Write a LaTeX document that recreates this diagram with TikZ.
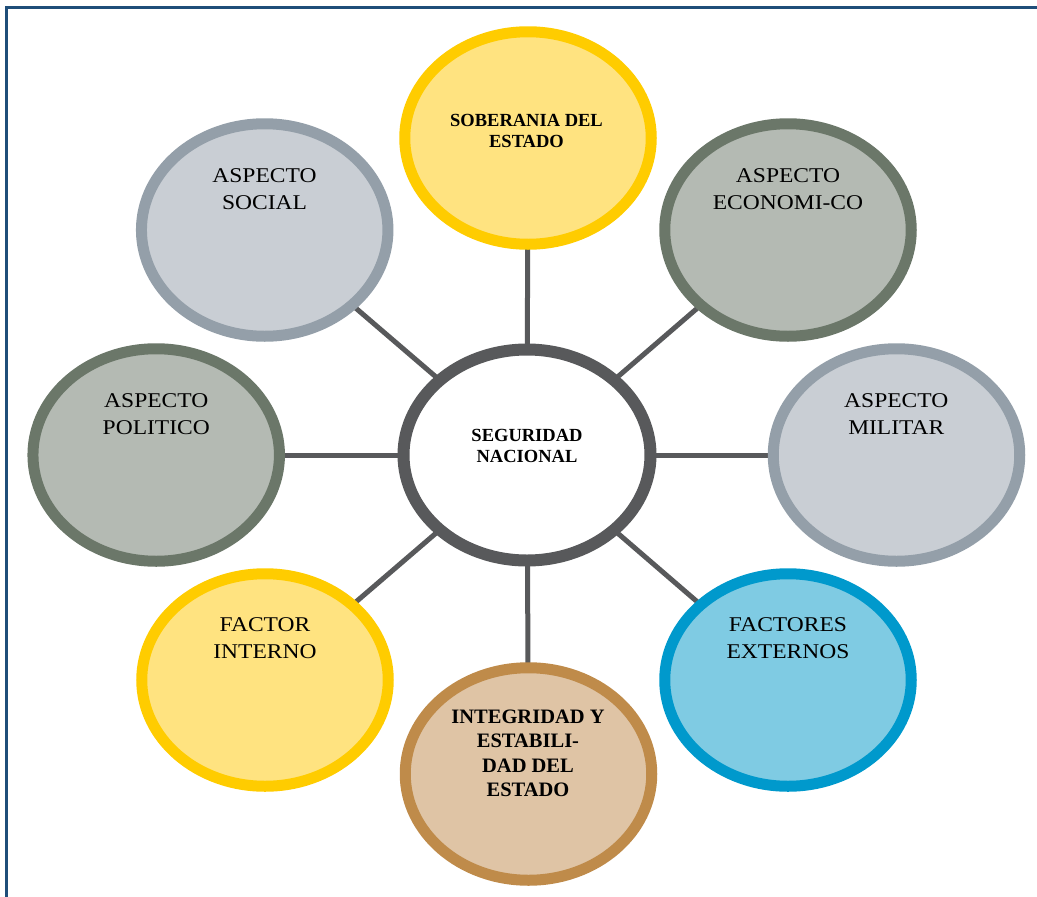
\documentclass[tikz,border=0pt]{standalone}
\usepackage{fontspec}
\setmainfont{Liberation Serif}
\usetikzlibrary{shapes.geometric,backgrounds}
\definecolor{framec}{HTML}{1F4E79}
\definecolor{linkc}{HTML}{58595B}
\definecolor{yelO}{HTML}{FFCC00}
\definecolor{yelF}{HTML}{FFE380}
\definecolor{bgO}{HTML}{949FA9}
\definecolor{bgF}{HTML}{C9CED4}
\definecolor{ggO}{HTML}{6B7769}
\definecolor{ggF}{HTML}{B4BAB3}
\definecolor{blO}{HTML}{0099CC}
\definecolor{blF}{HTML}{7FCBE3}
\definecolor{brO}{HTML}{BF8B4A}
\definecolor{brF}{HTML}{DFC4A5}
\tikzset{
  bubble/.style={ellipse, line width=11pt, minimum width=246.5pt, minimum height=212.5pt, inner sep=0pt},
  yelb/.style={bubble, draw=yelO, fill=yelF},
  blueg/.style={bubble, draw=bgO, fill=bgF},
  greeng/.style={bubble, draw=ggO, fill=ggF},
  blueb/.style={bubble, draw=blO, fill=blF},
  brownb/.style={bubble, draw=brO, fill=brF},
  hub/.style={ellipse, line width=12pt, draw=linkc, fill=white, minimum width=247pt, minimum height=211pt, inner sep=0pt},
  plain/.style={anchor=north, align=center, inner sep=0pt, xscale=1.12, transform shape,
     font=\fontsize{21pt}{27pt}\selectfont},
  boldt/.style={anchor=north, align=center, inner sep=0pt,
     font=\fontsize{18.5pt}{21pt}\selectfont\bfseries},
  boldbig/.style={anchor=north, align=center, inner sep=0pt,
     font=\fontsize{20.5pt}{24.5pt}\selectfont\bfseries},
  link/.style={draw=linkc, line width=5pt}
}
\begin{document}
\begin{tikzpicture}[x=1pt,y=1pt]
\useasboundingbox (0,0) rectangle (1037,-897);
\begin{scope}
\clip (0,0) rectangle (1037,-897);
\draw[framec, line width=2.3pt] (6.6,-1000) |- (1100,-7.6);
\end{scope}

\node[yelb]   (sob) at (528,-138) {};
\node[blueg]  (soc) at (264.7,-230) {};
\node[greeng] (eco) at (788,-230) {};
\node[greeng] (pol) at (156.2,-455) {};
\node[hub]    (seg) at (527,-455) {};
\node[blueg]  (mil) at (896.5,-455) {};
\node[yelb]   (int) at (265,-680) {};
\node[blueb]  (ext) at (788,-680) {};
\node[brownb] (ieg) at (528.5,-774) {};

\node[boldt]   (sobt) at (526.5,-114.2) {SOBERANIA DEL\\ESTADO};
\node[plain]   (soct) at (264.5,-168.8) {ASPECTO\\SOCIAL};
\node[plain]   (ecot) at (788,-168.5) {ASPECTO\\ECONOMI-CO};
\node[plain]   (polt) at (156.3,-393.5) {ASPECTO\\POLITICO};
\node[boldt]   (segt) at (527,-428.9) {SEGURIDAD\\NACIONAL};
\node[plain]   (milt) at (896.3,-393.5) {ASPECTO\\MILITAR};
\node[plain]   (intt) at (265,-617.8) {FACTOR\\INTERNO};
\node[plain]   (extt) at (788,-617.5) {FACTORES\\EXTERNOS};
\node[boldbig] (iegt) at (528,-709.3) {INTEGRIDAD Y\\ESTABILI-\\DAD DEL\\ESTADO};

\begin{pgfonlayer}{background}
\foreach \n in {sob,soc,eco,pol,mil,int,ext,ieg}
  \draw[link] (seg.center) -- (\n.center);
\end{pgfonlayer}
\end{tikzpicture}
\end{document}
